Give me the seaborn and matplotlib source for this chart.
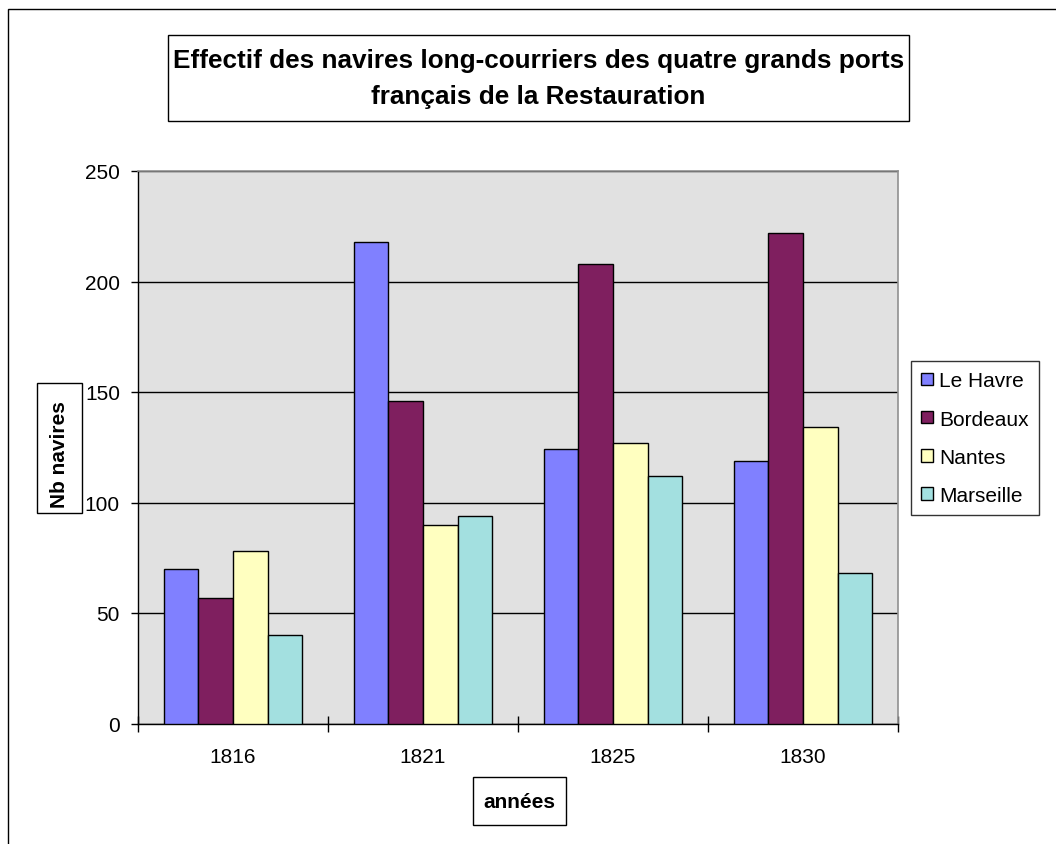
import matplotlib
matplotlib.use("Agg")
import matplotlib.pyplot as plt
from matplotlib.patches import Rectangle
from matplotlib.ticker import FixedLocator
import seaborn as sns
import pandas as pd

years = ["1816", "1821", "1825", "1830"]
ports = ["Le Havre", "Bordeaux", "Nantes", "Marseille"]
le_havre = [70, 218, 124, 119]
bordeaux = [57, 146, 208, 222]
nantes = [78, 90, 127, 134]
marseille = [40, 94, 112, 68]
colors = ["#8080FF", "#7F1F5F", "#FFFFC0", "#A3E0E0"]

title = "Effectif des navires long-courriers des quatre grands ports\nfrançais de la Restauration"

W, H = 1056, 845


def fx(px):
    return px / W


def fy(py):
    return 1 - py / H


def add_box(fig, x0, y0, x1, y1, **kw):
    # box given in pixel coordinates (top-left origin)
    r = Rectangle((fx(x0), fy(y1)), fx(x1 - x0), (y1 - y0) / H, transform=fig.transFigure,
                  fill=False, edgecolor="black", linewidth=1.0, **kw)
    fig.patches.append(r)


def main():
    df = pd.DataFrame({
        "year": years * 4,
        "port": [p for p in ports for _ in years],
        "value": le_havre + bordeaux + nantes + marseille,
    })

    sns.set_style("white")
    plt.rcParams["font.family"] = ["Liberation Sans", "DejaVu Sans"]
    for k in ["text.color", "axes.labelcolor", "xtick.color", "ytick.color"]:
        plt.rcParams[k] = "black"

    fig = plt.figure(figsize=(W / 100, H / 100), dpi=100)
    ax = fig.add_axes([fx(138), fy(724.5), fx(898 - 138), (724.5 - 172) / H])
    ax.set_facecolor("#E1E1E1")

    sns.barplot(data=df, x="year", y="value", hue="port", order=years, hue_order=ports,
                palette=colors, width=0.727, gap=0, edgecolor="black", linewidth=1.0,
                saturation=1, ax=ax, zorder=3)

    ax.set_ylim(0, 250)
    ax.set_xlim(-0.5, 3.5)
    ax.set_yticks(range(0, 251, 50))
    ax.yaxis.grid(True, color="black", linewidth=1.0, zorder=1)
    ax.set_axisbelow(True)

    ax.tick_params(axis="y", direction="out", length=5, width=1, color="black",
                   labelcolor="black", labelsize=15, pad=8, left=True)
    ax.tick_params(axis="x", which="major", length=0, labelsize=15, pad=17,
                   labelcolor="black")
    ax.xaxis.set_minor_locator(FixedLocator([-0.5, 0.5, 1.5, 2.5, 3.5]))
    ax.tick_params(axis="x", which="minor", direction="inout", length=12, width=1,
                   color="black", bottom=True)

    for s in ["left", "bottom"]:
        ax.spines[s].set_color("black")
        ax.spines[s].set_linewidth(1.0)
    for s in ["top", "right"]:
        ax.spines[s].set_color("#909090")
        ax.spines[s].set_linewidth(1.2)

    ax.set_xlabel("années", fontsize=15, fontweight="bold", color="black")
    ax.set_ylabel("Nb navires", fontsize=15, fontweight="bold", color="black")
    ax.xaxis.label.set_va("center")
    ax.yaxis.label.set_va("center")
    ax.xaxis.set_label_coords(0.502, -0.1403)
    ax.yaxis.set_label_coords(-0.1033, 0.4887)

    sns.move_legend(ax, "upper left", bbox_to_anchor=(fx(911), fy(362)),
                    bbox_transform=fig.transFigure, title=None, fontsize=15,
                    frameon=True, fancybox=False, borderaxespad=0, borderpad=0.5,
                    handlelength=0.55, handleheight=0.55, handletextpad=0.3,
                    labelspacing=0.92)
    leg = ax.get_legend()
    leg.get_frame().set_edgecolor("black")
    leg.get_frame().set_linewidth(1.0)
    for h in leg.legend_handles:
        h.set_edgecolor("black")
        h.set_linewidth(1.0)
    for t in leg.get_texts():
        t.set_color("black")

    fig.suptitle(title, x=fx(538.5), y=fy(79), ha="center", va="center",
                 fontsize=18.8, fontweight="bold", linespacing=1.6, color="black")

    add_box(fig, 168, 36, 909, 122)
    add_box(fig, 37, 384, 82, 514)
    add_box(fig, 473, 778, 566, 826)
    # outer chart frame, running past the right and bottom edges
    fig.patches.append(Rectangle((fx(8), -0.2), 1.5, fy(10) + 0.2, transform=fig.transFigure,
                                 fill=False, edgecolor="black", linewidth=1.0))

    fig.savefig("out.png", dpi=100)


if __name__ == "__main__":
    main()
